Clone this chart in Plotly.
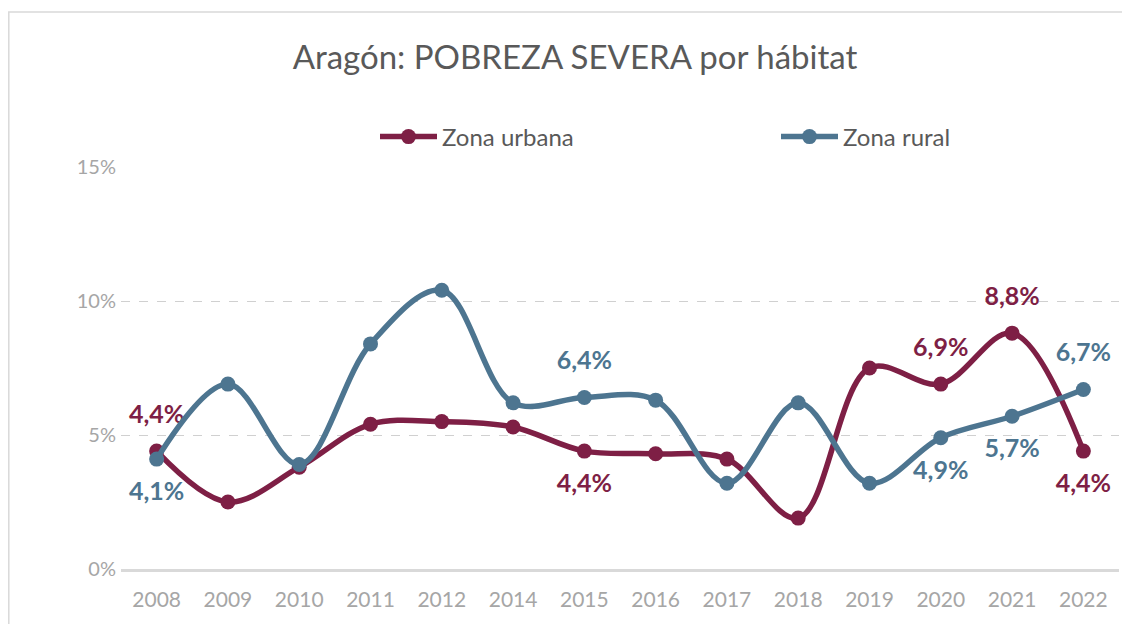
import plotly.graph_objects as go

years = ["2008", "2009", "2010", "2011", "2012", "2014", "2015", "2016",
         "2017", "2018", "2019", "2020", "2021", "2022"]
urbana = [4.4, 2.5, 3.8, 5.4, 5.5, 5.3, 4.4, 4.3, 4.1, 1.9, 7.5, 6.9, 8.8, 4.4]
rural = [4.1, 6.9, 3.9, 8.4, 10.4, 6.2, 6.4, 6.3, 3.2, 6.2, 3.2, 4.9, 5.7, 6.7]

# which points carry a data label, and where
urbana_lbl = ["top", "", "", "", "", "", "bottom", "", "", "", "", "top", "top", "bottom"]
rural_lbl = ["bottom", "", "", "", "", "", "top", "", "", "", "", "bottom", "bottom", "top"]

C_URB = "#7E1F45"
C_RUR = "#4D7590"
FONT = "Lato"

# page body has an 8px margin, so the figure is offset by 8px
OFF = 8
W, H = 1130, 624
L, T = 121 - OFF, 167 - OFF
PW, PH = 998, 402
R, B = W - L - PW, H - T - PH


def fmt(v):
    return f"{v:.1f}".replace(".", ",") + "%"


fig = go.Figure()
for name, vals, lbl, col, leg in (("Zona urbana", urbana, urbana_lbl, C_URB, "legend"),
                                  ("Zona rural", rural, rural_lbl, C_RUR, "legend2")):
    fig.add_trace(go.Scatter(
        x=years, y=vals, name=name, mode="lines+markers", legend=leg,
        line=dict(color=col, width=5.5, shape="spline", smoothing=1.0),
        marker=dict(color=col, size=15),
    ))
    # data labels: invisible wide markers push the text away from the point
    fig.add_trace(go.Scatter(
        x=years, y=vals, mode="markers+text", showlegend=False, hoverinfo="skip",
        marker=dict(size=34, opacity=0),
        text=[fmt(v) if p else "" for v, p in zip(vals, lbl)],
        textposition=[(p or "top") + " center" for p in lbl],
        textfont=dict(family=FONT, size=25, color=col, weight="bold"),
        cliponaxis=False,
    ))

leg_common = dict(orientation="h", xanchor="left", yanchor="middle", itemwidth=57,
                  font=dict(family=FONT, size=24, color="#595959"),
                  bgcolor="rgba(0,0,0,0)", borderwidth=0)

fig.update_layout(
    width=W, height=H,
    margin=dict(l=L, r=R, t=T, b=B, autoexpand=False),
    paper_bgcolor="white", plot_bgcolor="white",
    font=dict(family=FONT, color="#595959"),
    title=dict(text="Aragón: POBREZA SEVERA por hábitat", x=(575 - OFF) / W, xanchor="center",
               y=1 - (57 - OFF) / H, yanchor="middle",
               font=dict(family=FONT, size=33, color="#595959")),
    showlegend=True,
    legend=dict(x=(375 - 121) / PW, y=1 + (167 - 137) / PH, **leg_common),
    legend2=dict(x=(776 - 121) / PW, y=1 + (167 - 137) / PH, **leg_common),
    xaxis=dict(type="category", range=[-0.5, len(years) - 0.5], autorange=False,
               showgrid=False, showline=True, linecolor="#D9D9D9",
               linewidth=3, ticks="", ticklabelstandoff=10,
               tickfont=dict(family=FONT, size=21, color="#A6A6A6"),
               zeroline=False),
    yaxis=dict(range=[0, 15], tickvals=[0, 5, 10, 15], ticktext=["0%", "5%", "10%", "15%"],
               showgrid=True, gridcolor="#D0D0D0", griddash="dash", gridwidth=1.4,
               zeroline=False, showline=False, ticks="", ticklen=0, ticklabelstandoff=4,
               tickfont=dict(family=FONT, size=20, color="#A6A6A6")),
    shapes=[dict(type="rect", xref="paper", yref="paper",
                 x0=(0.8 - L) / PW, x1=(1140 - L) / PW,
                 y0=-(640 - 569) / PH, y1=1 + (167 - 12) / PH,
                 line=dict(color="#D9D9D9", width=1.5), layer="below")],
)

fig.write_html("out.html")
